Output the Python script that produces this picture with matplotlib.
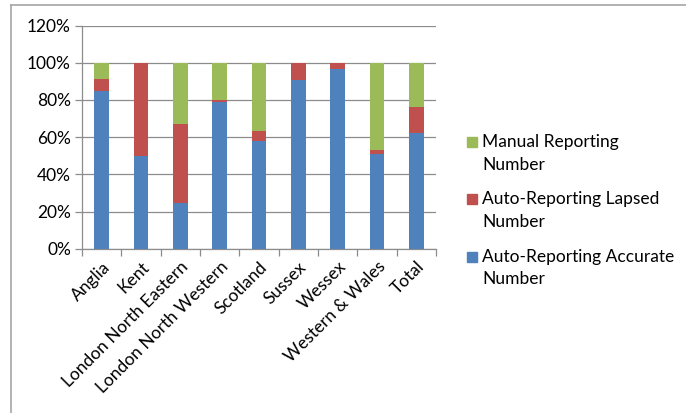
import matplotlib
matplotlib.use("Agg")
import matplotlib.pyplot as plt
from matplotlib.lines import Line2D
from matplotlib.patches import Rectangle
import numpy as np

regions = ["Anglia", "Kent", "London North Eastern", "London North Western",
           "Scotland", "Sussex", "Wessex", "Western & Wales", "Total"]
accurate = [85.0, 49.8, 24.5, 79.1, 58.2, 90.7, 96.8, 50.8, 62.5]
lapsed = [6.1, 50.2, 42.6, 1.1, 5.3, 9.3, 3.2, 2.4, 13.9]
manual = [8.9, 0.0, 32.9, 19.8, 36.5, 0.0, 0.0, 46.8, 23.6]
y_ticks = [0, 20, 40, 60, 80, 100, 120]
series_names = ["Manual Reporting\nNumber", "Auto-Reporting Lapsed\nNumber",
                "Auto-Reporting Accurate\nNumber"]

blue = "#4F81BD"
red = "#C0504D"
green = "#9BBB59"
grid_grey = "#8C8C8C"

plt.rcParams["font.family"] = ["Lato", "DejaVu Sans"]
FS = 12.5

W, H = 686, 413
fig = plt.figure(figsize=(W / 100, H / 100), dpi=100)
ax = fig.add_axes([82 / W, 1 - 249 / H, (436 - 82) / W, (249 - 25.5) / H])

x = np.arange(len(regions))
acc = np.array(accurate)
lap = np.array(lapsed)
man = np.array(manual)
w = 0.38
ax.bar(x, acc, w, color=blue, zorder=3)
ax.bar(x, lap, w, bottom=acc, color=red, zorder=3)
ax.bar(x, man, w, bottom=acc + lap, color=green, zorder=3)

ax.set_xlim(-0.5, len(regions) - 0.5)
ax.set_ylim(0, 120)
ax.set_yticks(y_ticks)
ax.set_yticklabels([f"{v}%" for v in y_ticks], fontsize=FS)
ax.yaxis.grid(True, color=grid_grey, linewidth=0.9, zorder=0)
ax.tick_params(axis="y", length=5, color=grid_grey, width=0.9, pad=3)

ax.set_xticks(x)
ax.set_xticklabels(regions, rotation=45, ha="right", rotation_mode="anchor",
                   fontsize=FS)
ax.tick_params(axis="x", length=0, pad=7)
ax.set_xticks(np.arange(-0.5, len(regions), 1.0), minor=True)
ax.tick_params(axis="x", which="minor", length=5, color=grid_grey, width=0.9)

for side in ("top", "right"):
    ax.spines[side].set_visible(False)
for side in ("left", "bottom"):
    ax.spines[side].set_color(grid_grey)
    ax.spines[side].set_linewidth(0.9)

# legend: square swatch beside a two-line label
legend_colors = [green, red, blue]
legend_rows = [142, 199, 257]
line_gap = 22.5
sq = 10
for name, col, yc in zip(series_names, legend_colors, legend_rows):
    fig.add_artist(Rectangle((467 / W, 1 - (yc + sq / 2) / H), sq / W, sq / H,
                             transform=fig.transFigure, color=col))
    for i, line in enumerate(name.split("\n")):
        fig.text(482 / W, 1 - (yc + i * line_gap) / H, line, fontsize=FS,
                 va="center", ha="left")

# outer chart frame
fig.add_artist(Line2D([10.5 / W, 10.5 / W], [0, 1 - 5 / H],
                      transform=fig.transFigure, color="#A6A6A6", lw=1.2))
fig.add_artist(Line2D([10.5 / W, 1], [1 - 5 / H, 1 - 5 / H],
                      transform=fig.transFigure, color="#A6A6A6", lw=1.2))

fig.savefig("out.png", dpi=100)
